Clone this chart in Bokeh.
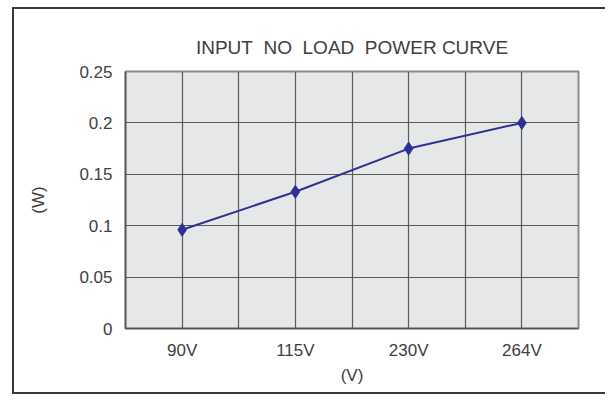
from bokeh.plotting import figure
from bokeh.models import FixedTicker, Range1d, ColumnDataSource
from bokeh.embed import file_html
from bokeh.resources import INLINE

# ---- data ----
categories = ["90V", "115V", "230V", "264V"]
power_w = [0.096, 0.133, 0.175, 0.200]
y_ticks = [0, 0.05, 0.1, 0.15, 0.2, 0.25]
y_tick_labels = ["0", "0.05", "0.1", "0.15", "0.2", "0.25"]
title_text = "INPUT\u00a0 NO\u00a0 LOAD\u00a0 POWER CURVE"
x_label = "(V)"
y_label = "(W)"

FONT = "Liberation Sans"
TXT = "#404040"

n = len(categories)
x_pos = [i + 0.5 for i in range(n)]
src = ColumnDataSource(dict(x=x_pos, y=power_w, cat=categories))

W, H = 607, 395
p = figure(width=W, height=H, output_backend="svg", toolbar_location=None,
           x_range=Range1d(0, n), y_range=Range1d(0, 0.25),
           min_border_left=125, min_border_right=W - 578,
           min_border_top=71, min_border_bottom=H - 328,
           title=title_text)

p.background_fill_color = "#e6e7e9"
p.border_fill_alpha = 0
p.outline_line_color = "#8c8c8c"
p.outline_line_width = 2

# outer box (left, top, bottom edges) drawn as host background
LC = "#3a3a3a"
p.styles = {
    "border": "none",
    "background": (
        f"linear-gradient({LC},{LC}) 12px 7px / 2px {H - 9}px no-repeat, "
        f"linear-gradient({LC},{LC}) 12px 7px / {W - 14}px 2px no-repeat, "
        f"linear-gradient({LC},{LC}) 12px {H - 3}px / {W - 14}px 2px no-repeat, "
        "white"
    ),
}

p.title.align = "center"
p.title.text_font = FONT
p.title.text_font_size = "19px"
p.title.text_font_style = "normal"
p.title.text_color = TXT
p.title.standoff = 28

xa = p.xaxis[0]
ya = p.yaxis[0]
xa.ticker = FixedTicker(ticks=x_pos)
xa.major_label_overrides = {x: c for x, c in zip(x_pos, categories)}
xa.axis_label = x_label
ya.ticker = FixedTicker(ticks=y_ticks)
ya.major_label_overrides = {t: s for t, s in zip(y_ticks, y_tick_labels)}
ya.axis_label = y_label
for ax in (xa, ya):
    ax.major_tick_out = 0
    ax.major_tick_in = 0
    ax.minor_tick_out = 0
    ax.minor_tick_in = 0
    ax.major_tick_line_color = None
    ax.minor_tick_line_color = None
    ax.axis_line_color = "#555555"
    ax.axis_line_width = 1.5
    ax.major_label_text_font = FONT
    ax.major_label_text_font_size = "17px"
    ax.major_label_text_color = TXT
    ax.axis_label_text_font = FONT
    ax.axis_label_text_font_size = "17px"
    ax.axis_label_text_font_style = "normal"
    ax.axis_label_text_color = TXT
xa.major_label_standoff = 12
xa.axis_label_standoff = 3
ya.major_label_standoff = 13
ya.axis_label_standoff = 28

# grid: lines at category centres and boundaries
p.xgrid[0].ticker = FixedTicker(ticks=[i * 0.5 for i in range(1, 2 * n)])
p.ygrid[0].ticker = FixedTicker(ticks=y_ticks[1:-1])
for g in (p.xgrid[0], p.ygrid[0]):
    g.grid_line_color = "#5a5a5a"
    g.grid_line_width = 1.2

p.line("x", "y", source=src, line_color="#2e3192", line_width=2)
p.scatter("x", "y", source=src, marker="diamond", size=13,
          fill_color="#2e3192", line_color="#2e3192")

open("out.html", "w").write(file_html(p, INLINE))
